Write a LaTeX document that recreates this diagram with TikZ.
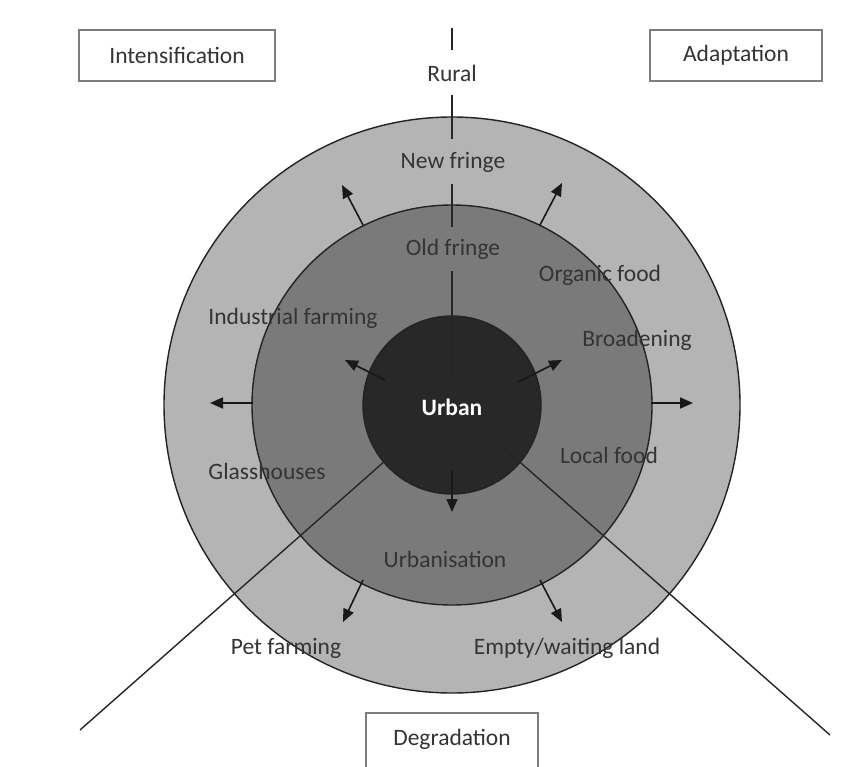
\documentclass[tikz,border=0pt]{standalone}
\usepackage{fontspec}
\setmainfont{Carlito}
\usetikzlibrary{arrows.meta}
\definecolor{outerg}{RGB}{180,180,180}
\definecolor{midg}{RGB}{122,122,122}
\definecolor{innerg}{RGB}{40,40,40}
\definecolor{txt}{RGB}{52,52,52}
\definecolor{boxline}{RGB}{125,125,125}
\definecolor{ringline}{RGB}{35,35,35}
\begin{document}
\begin{tikzpicture}[x=1pt,y=-1pt,
  lbl/.style={font=\fontsize{23.5}{27}\selectfont, text=txt, inner sep=0pt},
  ring/.style={draw=ringline, line width=1.4pt},
  ray/.style={line width=1.6pt, draw=black!90, -{Triangle[length=13pt,width=11pt]}},
  axis/.style={line width=1.4pt, draw=black!85},
  tbox/.style={draw=boxline, line width=1.8pt, fill=white, font=\fontsize{23.5}{27}\selectfont, text=txt, minimum height=51pt, inner sep=0pt}]
\useasboundingbox (0,0) rectangle (853,767);
\fill[white] (0,0) rectangle (853,767);
\coordinate (c) at (452,405);
\draw[ring, fill=outerg] (c) circle[radius=288pt];
\draw[ring, fill=midg] (c) circle[radius=200pt];
\draw[ring, fill=innerg] (c) circle[radius=89pt];
% axes
\coordinate (vtop) at (452,28);
\coordinate (vbot) at (452,380);
\draw[axis] (vtop) -- (vbot);
\coordinate (dl0) at (428,423);
\coordinate (dl1) at (80,730);
\coordinate (dr0) at (480,427);
\coordinate (dr1) at (830,735);
\draw[axis] (dl0) -- (dl1);
\draw[axis] (dr0) -- (dr1);
% arrows
\coordinate (a1s) at (385,380); \coordinate (a1e) at (345,360);
\coordinate (a2s) at (518,382); \coordinate (a2e) at (562,360);
\coordinate (a3s) at (452,470); \coordinate (a3e) at (452,512);
\coordinate (b1s) at (363,225); \coordinate (b1e) at (342,185);
\coordinate (b2s) at (253,403); \coordinate (b2e) at (210,403);
\coordinate (b3s) at (540,225); \coordinate (b3e) at (562,183);
\coordinate (b4s) at (651,403); \coordinate (b4e) at (693,403);
\coordinate (b5s) at (363,580); \coordinate (b5e) at (343,622);
\coordinate (b6s) at (540,580); \coordinate (b6e) at (562,622);
\foreach \p in {a1,a2,a3,b1,b2,b3,b4,b5,b6}{\draw[ray] (\p s) -- (\p e);}
% labels on the vertical axis
\node[lbl, fill=white, minimum width=129pt, minimum height=45pt] (rural) at (452,73) {Rural};
\node[lbl, fill=outerg, minimum height=45pt, inner xsep=3pt] (newf) at (453,162) {New fringe};
\node[lbl, fill=midg, minimum height=44pt, inner xsep=3pt] (oldf) at (453,249) {Old fringe};
% other labels
\node[lbl] (org) at (600,275) {Organic food};
\node[lbl] (brd) at (637,340) {Broadening};
\node[lbl] (ind) at (293,318) {Industrial farming};
\node[lbl] (gls) at (267,471) {Glasshouses};
\node[lbl] (loc) at (609,455) {Local food};
\node[lbl] (urbn) at (445,559) {Urbanisation};
\node[lbl] (pet) at (286,648) {Pet farming};
\node[lbl] (emp) at (567,648) {Empty/waiting land};
\node[lbl, text=white, font=\fontsize{23.5}{27}\selectfont\bfseries] (urban) at (452,407) {Urban};
% boxes
\node[tbox, minimum width=196pt] (int) at (177,55.5) {Intensification};
\node[tbox, minimum width=172pt] (ada) at (736,55.5) {Adaptation};
\node[tbox, minimum width=172pt, minimum height=80pt, anchor=north] (deg) at (452,712) {};
\node[lbl] (degt) at (452,739) {Degradation};
\end{tikzpicture}
\end{document}
